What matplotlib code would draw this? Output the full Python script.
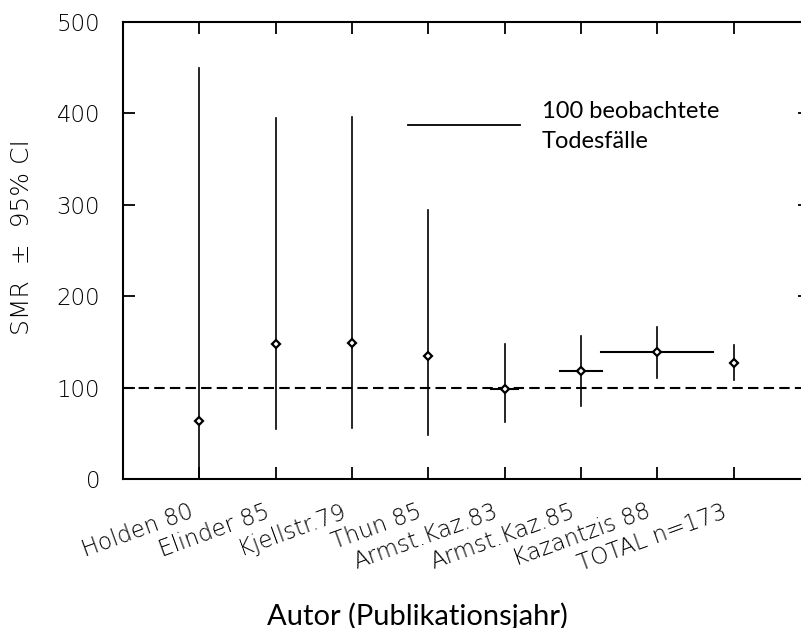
import matplotlib
matplotlib.use("Agg")
import matplotlib.pyplot as plt
import matplotlib.transforms as mtransforms

# studies (Autor / Publikationsjahr), SMR with 95% CI, observed deaths
authors = ["Holden 80", "Elinder 85", "Kjellstr.79", "Thun 85",
           "Armst.Kaz.83", "Armst.Kaz.85", "Kazantzis 88", "TOTAL n=173"]
smr = [63, 148, 149, 135, 99, 118, 139, 127]
ci_low = [0, 55, 56, 48, 62, 80, 110, 108]
ci_high = [450, 395, 396, 294, 148, 156, 166, 147]
deaths = [1, 4, 4, 2, 24, 38, 100, 0]   # width of horizontal bar

REF_DEATHS = 100          # legend bar
DEATH_SCALE = 1.465 / 100  # x-units per observed death

TICK_FONT = "DejaVu Sans"
TEXT_FONT = "Lato"


def main():
    fig = plt.figure(figsize=(8.01, 6.28), dpi=100)
    W, H = 801, 628
    # right spine sits just outside the picture (as in the original)
    ax = fig.add_axes([123 / W, 1 - 479 / H, (810 - 123) / W, (479 - 22) / H])

    xs = list(range(1, len(authors) + 1))

    # reference line SMR = 100
    ax.axhline(100, color="black", lw=1.5, dashes=(5, 2.5), zorder=1)

    for x, m, lo, hi, d in zip(xs, smr, ci_low, ci_high, deaths):
        ax.plot([x, x], [lo, hi], color="black", lw=1.2, zorder=2)
        if d:
            half = d * DEATH_SCALE / 2
            ax.plot([x - half, x + half], [m, m], color="black", lw=1.5, zorder=2)
        ax.plot(x, m, marker="D", ms=4.5, mfc="white", mec="black", mew=1.6, zorder=3)

    # legend bar: 100 observed deaths
    lx0 = 3.735
    ax.plot([lx0, lx0 + REF_DEATHS * DEATH_SCALE], [387, 387], color="black", lw=1.3)
    ax.text(5.49, 395, "100 beobachtete", family=TEXT_FONT, fontsize=17,
            ha="left", va="baseline")
    ax.text(5.49, 362.5, "Todesfälle", family=TEXT_FONT, fontsize=17,
            ha="left", va="baseline")

    ax.set_xlim(0, 9)
    ax.set_ylim(0, 500)
    ax.set_xticks(xs)
    ax.set_xticklabels([])
    ax.set_yticks(range(0, 501, 100))
    ax.set_yticklabels([str(v) for v in range(0, 501, 100)], family=TICK_FONT,
                       fontsize=16.5, fontweight="light")
    ax.tick_params(axis="both", direction="in", length=8.6, width=1.3,
                   top=True, right=True, bottom=True, left=True)
    ax.tick_params(axis="y", pad=16.5)
    for sp in ax.spines.values():
        sp.set_linewidth(1.5)

    # rotated author labels
    offset = mtransforms.ScaledTranslation(-5 / 100, -38 / 100, fig.dpi_scale_trans)
    trans = ax.get_xaxis_transform() + offset
    for x, name in zip(xs, authors):
        ax.text(x, 0, name, transform=trans, rotation=20, rotation_mode="anchor",
                ha="right", va="baseline", family=TICK_FONT, fontsize=16.5,
                fontweight="light")

    fig.text(22 / W, 1 - 237 / H, "SMR  ±  95% CI", rotation=90, ha="center",
             va="center", family=TICK_FONT, fontsize=18, fontweight="light")
    fig.text(417 / W, 3.5 / H, "Autor (Publikationsjahr)", ha="center",
             va="baseline", family=TEXT_FONT, fontsize=21)

    fig.savefig("out.png", dpi=100)


if __name__ == "__main__":
    main()
